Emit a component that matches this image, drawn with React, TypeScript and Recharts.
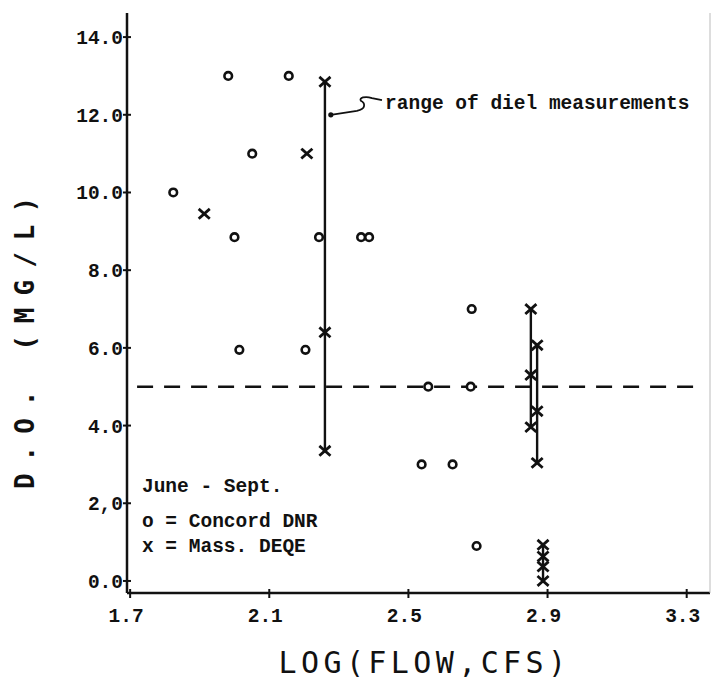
import {
  ScatterChart,
  Scatter,
  XAxis,
  YAxis,
  ReferenceLine,
  ReferenceDot,
} from "recharts";

const INK = "#111";
const MONO = "'Liberation Mono', 'DejaVu Sans Mono', monospace";
const TITLE_FONT = "'DejaVu Sans Mono', monospace";

// axis ticks
const xTicks = [1.7, 2.1, 2.5, 2.9, 3.3];
const xTickLabels = ["1.7", "2.1", "2.5", "2.9", "3.3"];
const yTicks = [0, 2, 4, 6, 8, 10, 12, 14];
const yTickLabels = ["0.0", "2,0", "4.0", "6.0", "8.0", "10.0", "12.0", "14.0"];

// Concord DNR grab samples (log flow, D.O.)
const concordFlow = [
  1.824, 1.982, 2.156, 2.051, 2.0, 2.243, 2.364, 2.387, 2.014, 2.204, 2.682,
  2.557, 2.679, 2.538, 2.627, 2.696,
];
const concordDO = [
  10.0, 13.0, 13.0, 11.0, 8.85, 8.85, 8.85, 8.85, 5.95, 5.95, 7.0, 5.0, 5.0,
  3.0, 3.0, 0.9,
];

// Mass. DEQE single samples
const massFlow = [1.913, 2.208];
const massDO = [9.45, 11.0];

// Mass. DEQE diel surveys: one flow, several readings each
const dielFlow = [2.26, 2.852, 2.87, 2.887];
const dielDO = [
  [12.85, 6.4, 3.35],
  [7.0, 5.3, 3.96],
  [6.07, 4.37, 3.04],
  [0.93, 0.63, 0.37, 0.0],
];

const standardDO = 5.0;

const concordData = concordFlow.map((x, i) => ({ x, y: concordDO[i] }));
const massData = massFlow.map((x, i) => ({ x, y: massDO[i] }));
const dielData = dielFlow.map((x, i) => dielDO[i].map((y) => ({ x, y })));

const Ring = (props: any) => (
  <circle cx={props.cx} cy={props.cy} r={3.8} fill="#fff" stroke={INK} strokeWidth={2.6} />
);

const Cross = (props: any) => {
  const { cx, cy } = props;
  return (
    <g stroke={INK} strokeWidth={2.8} strokeLinecap="square">
      <line x1={cx - 4.5} y1={cy - 4} x2={cx + 4.5} y2={cy + 4} />
      <line x1={cx - 4.5} y1={cy + 4} x2={cx + 4.5} y2={cy - 4} />
    </g>
  );
};

const YTick = (props: any) => {
  const { x, y, index } = props;
  return (
    <g>
      <line x1={x - 4} x2={x + 4} y1={y} y2={y} stroke={INK} strokeWidth={2} />
      <text
        x={x - 4}
        y={y}
        dy="0.36em"
        textAnchor="end"
        fontFamily={MONO}
        fontWeight="bold"
        fontSize={19.5}
        fill={INK}
      >
        {yTickLabels[index]}
      </text>
    </g>
  );
};

const XTick = (props: any) => {
  const { x, y, index } = props;
  return (
    <g>
      <line x1={x} x2={x} y1={y - 4} y2={y + 5} stroke={INK} strokeWidth={2} />
      <text
        x={x - 4}
        y={y + 22}
        dy="0.36em"
        textAnchor="middle"
        fontFamily={MONO}
        fontWeight="bold"
        fontSize={19.5}
        fill={INK}
      >
        {xTickLabels[index]}
      </text>
    </g>
  );
};

const XTitle = (props: any) => {
  const { x, y, width } = props.viewBox;
  return (
    <text
      x={x + width / 2 + 6}
      y={y + 69}
      dy="0.36em"
      textAnchor="middle"
      fontFamily={TITLE_FONT}
      fontSize={30}
      letterSpacing={4.4}
      fill={INK}
    >
      LOG(FLOW,CFS)
    </text>
  );
};

const YTitle = (props: any) => {
  const { y, height } = props.viewBox;
  const cx = 25;
  const cy = y + height / 2 + 34;
  return (
    <text
      x={cx}
      y={cy}
      dy="0.36em"
      textAnchor="middle"
      transform={`rotate(-90 ${cx} ${cy})`}
      fontFamily={TITLE_FONT}
      fontWeight="bold"
      fontSize={26}
      letterSpacing={12}
      fill={INK}
    >
      D.O. (MG/L)
    </text>
  );
};

// plain text placed at a data position
const note = (text: string) => (props: any) => (
  <text
    x={props.cx}
    y={props.cy}
    dy="0.36em"
    fontFamily={MONO}
    fontWeight="bold"
    fontSize={19.5}
    fill={INK}
  >
    {text}
  </text>
);

// leader from the label down to the diel range line
const Leader = (props: any) => {
  const { x1, y1, x2, y2 } = props;
  const d = `M${x1},${y1} L${x1 + 26},${y1 - 4} C${x1 + 36},${y1 - 6} ${x1 + 34},${y1 - 12} ${x1 + 30},${y1 - 14} C${x1 + 28},${y1 - 17} ${x1 + 34},${y1 - 19} ${x2 - 10},${y2 - 2} L${x2},${y2}`;
  return <path d={d} fill="none" stroke={INK} strokeWidth={1.8} />;
};

export default function App() {
  return (
    <div style={{ position: "absolute", left: 0, top: 0, background: "#fff" }}>
      <ScatterChart width={711} height={692} margin={{ top: 13, right: 0, bottom: 0, left: 0 }}>
        <XAxis
          type="number"
          dataKey="x"
          domain={[1.691, 3.367]}
          ticks={xTicks}
          allowDataOverflow
          height={99}
          tickSize={0}
          tickMargin={0}
          tick={<XTick />}
          axisLine={{ stroke: INK, strokeWidth: 2.5 }}
          label={<XTitle />}
        />
        <XAxis
          xAxisId="top"
          orientation="top"
          type="number"
          domain={[1.691, 3.367]}
          height={0}
          tick={false}
          tickLine={false}
          axisLine={{ stroke: INK, strokeWidth: 2.5 }}
        />
        <YAxis
          type="number"
          dataKey="y"
          domain={[-0.31, 14.62]}
          ticks={yTicks}
          allowDataOverflow
          width={127}
          tickSize={0}
          tickMargin={0}
          tick={<YTick />}
          axisLine={{ stroke: INK, strokeWidth: 2.5 }}
          label={<YTitle />}
        />
        <YAxis
          yAxisId="right"
          orientation="right"
          type="number"
          domain={[-0.31, 14.62]}
          width={1}
          tick={false}
          tickLine={false}
          axisLine={{ stroke: "#bbb", strokeWidth: 1 }}
        />

        <ReferenceLine
          segment={[
            { x: 1.72, y: standardDO },
            { x: 3.324, y: standardDO },
          ]}
          stroke={INK}
          strokeWidth={2.6}
          strokeDasharray="16 11"
        />

        <ReferenceLine
          segment={[
            { x: 2.277, y: 12.0 },
            { x: 2.424, y: 12.38 },
          ]}
          shape={<Leader />}
        />
        <ReferenceDot x={2.277} y={12.0} r={2.6} fill={INK} stroke="none" />
        <ReferenceDot x={2.433} y={12.33} r={0} shape={note("range of diel measurements")} />

        <ReferenceDot x={1.734} y={2.47} r={0} shape={note("June - Sept.")} />
        <ReferenceDot x={1.734} y={1.57} r={0} shape={note("o = Concord DNR")} />
        <ReferenceDot x={1.734} y={0.93} r={0} shape={note("x = Mass. DEQE")} />

        {dielData.map((pts, i) => (
          <Scatter
            key={i}
            data={pts}
            line={{ stroke: INK, strokeWidth: 2.4 }}
            shape={<Cross />}
            isAnimationActive={false}
          />
        ))}
        <Scatter data={massData} shape={<Cross />} isAnimationActive={false} />
        <Scatter data={concordData} shape={<Ring />} isAnimationActive={false} />
      </ScatterChart>
    </div>
  );
}
